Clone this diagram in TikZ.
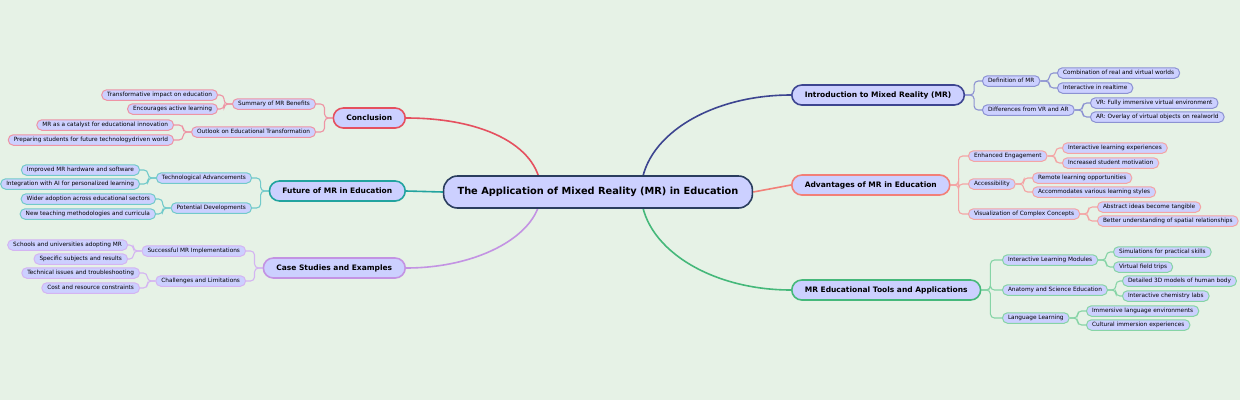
\documentclass[tikz,border=0pt]{standalone}
\usepackage{fontspec}
\setmainfont{DejaVu Sans}
\usetikzlibrary{positioning}
\pgfdeclarelayer{bg}
\pgfsetlayers{bg,main}
\definecolor{bgcol}{HTML}{E6F2E6}
\definecolor{nodefill}{HTML}{CCD0FF}
\definecolor{rootline}{HTML}{2A3D5E}
\definecolor{introcol}{HTML}{3D4590}
\definecolor{introsub}{HTML}{8C92D2}
\definecolor{advcol}{HTML}{F28078}
\definecolor{advsub}{HTML}{F4A4A4}
\definecolor{toolcol}{HTML}{45B87A}
\definecolor{toolsub}{HTML}{86D4A6}
\definecolor{conccol}{HTML}{E5505F}
\definecolor{concsub}{HTML}{EE94A4}
\definecolor{futcol}{HTML}{22A39F}
\definecolor{futsub}{HTML}{72CACA}
\definecolor{casecol}{HTML}{C393E3}
\definecolor{casesub}{HTML}{D4B4F2}
\tikzset{
  root/.style={draw=rootline, line width=1.6pt, fill=nodefill, rounded corners=14pt,
    minimum height=32pt, inner xsep=14pt, text height=7.3pt, text depth=2pt,
    font=\fontsize{9.8}{11}\selectfont\bfseries},
  topic/.style={draw=#1, line width=1.6pt, fill=nodefill, rounded corners=10pt,
    minimum height=20pt, inner xsep=13pt, text height=5.6pt, text depth=1.6pt,
    font=\fontsize{7.5}{9}\selectfont\bfseries},
  leaf/.style={draw=#1, line width=1pt, fill=nodefill, rounded corners=5pt,
    minimum height=10.5pt, inner xsep=5.5pt, inner ysep=0pt, text height=4.4pt,
    text depth=1.3pt, font=\fontsize{5.8}{7}\selectfont},
  branch/.style={draw=#1, line width=1.6pt},
  twig/.style={draw=#1, line width=1.1pt, rounded corners=4pt}
}
\begin{document}
\begin{tikzpicture}[x=1pt,y=-1pt]
\useasboundingbox (0,0) rectangle (1240,400);
\node[root] (app) at (598,192) {The Application of Mixed Reality (MR) in Education};
\node[topic=introcol, anchor=west] (intro) at (791,95) {Introduction to Mixed Reality (MR)};
\node[topic=advcol, anchor=west] (adv) at (791,185) {Advantages of MR in Education};
\node[topic=toolcol, anchor=west] (tools) at (791,290) {MR Educational Tools and Applications};
\node[topic=conccol, anchor=east] (conc) at (406,118) {Conclusion};
\node[topic=futcol, anchor=east] (fut) at (406,191) {Future of MR in Education};
\node[topic=casecol, anchor=east] (cases) at (406,268) {Case Studies and Examples};

\node[leaf=introsub, anchor=west] (defmr) at (982,81) {Definition of MR};
\node[leaf=introsub, anchor=west] (diffvr) at (982,110) {Differences from VR and AR};
\node[leaf=introsub, anchor=west] (combine) at (1057,73) {Combination of real and virtual worlds};
\node[leaf=introsub, anchor=west] (realtime) at (1057,88) {Interactive in realtime};
\node[leaf=introsub, anchor=west] (vrenv) at (1090,103) {VR: Fully immersive virtual environment};
\node[leaf=introsub, anchor=west] (aroverlay) at (1090,117) {AR: Overlay of virtual objects on realworld};

\node[leaf=advsub, anchor=west] (engage) at (968,156) {Enhanced Engagement};
\node[leaf=advsub, anchor=west] (access) at (968,184) {Accessibility};
\node[leaf=advsub, anchor=west] (visual) at (968,214) {Visualization of Complex Concepts};
\node[leaf=advsub, anchor=west] (experience) at (1062,148) {Interactive learning experiences};
\node[leaf=advsub, anchor=west] (motivation) at (1062,163) {Increased student motivation};
\node[leaf=advsub, anchor=west] (remote) at (1032,178) {Remote learning opportunities};
\node[leaf=advsub, anchor=west] (styles) at (1032,192) {Accommodates various learning styles};
\node[leaf=advsub, anchor=west] (tangible) at (1097,207) {Abstract ideas become tangible};
\node[leaf=advsub, anchor=west] (spatial) at (1097,221) {Better understanding of spatial relationships};

\node[leaf=toolsub, anchor=west] (modules) at (1002,260) {Interactive Learning Modules};
\node[leaf=toolsub, anchor=west] (anatomy) at (1002,290) {Anatomy and Science Education};
\node[leaf=toolsub, anchor=west] (language) at (1002,318) {Language Learning};
\node[leaf=toolsub, anchor=west] (skills) at (1113,252) {Simulations for practical skills};
\node[leaf=toolsub, anchor=west] (trips) at (1113,267) {Virtual field trips};
\node[leaf=toolsub, anchor=west] (body) at (1122,281) {Detailed 3D models of human body};
\node[leaf=toolsub, anchor=west] (chemlab) at (1122,296) {Interactive chemistry labs};
\node[leaf=toolsub, anchor=west] (langenv) at (1086,311) {Immersive language environments};
\node[leaf=toolsub, anchor=west] (culture) at (1086,325) {Cultural immersion experiences};

\node[leaf=concsub, anchor=east] (summary) at (316,104) {Summary of MR Benefits};
\node[leaf=concsub, anchor=east] (outlook) at (316,132) {Outlook on Educational Transformation};
\node[leaf=concsub, anchor=east] (impact) at (218,95) {Transformative impact on education};
\node[leaf=concsub, anchor=east] (active) at (218,109) {Encourages active learning};
\node[leaf=concsub, anchor=east] (catalyst) at (174,125) {MR as a catalyst for educational innovation};
\node[leaf=concsub, anchor=east] (prepare) at (174,140) {Preparing students for future technologydriven world};

\node[leaf=futsub, anchor=east] (techadv) at (252,178) {Technological Advancements};
\node[leaf=futsub, anchor=east] (potdev) at (252,208) {Potential Developments};
\node[leaf=futsub, anchor=east] (hardware) at (140,170) {Improved MR hardware and software};
\node[leaf=futsub, anchor=east] (aiint) at (140,184) {Integration with AI for personalized learning};
\node[leaf=futsub, anchor=east] (adoption) at (156,199) {Wider adoption across educational sectors};
\node[leaf=futsub, anchor=east] (methods) at (156,214) {New teaching methodologies and curricula};

\node[leaf=casesub, anchor=east] (success) at (246,251) {Successful MR Implementations};
\node[leaf=casesub, anchor=east] (limits) at (246,281) {Challenges and Limitations};
\node[leaf=casesub, anchor=east] (schools) at (128,245) {Schools and universities adopting MR};
\node[leaf=casesub, anchor=east] (subjects) at (128,259) {Specific subjects and results};
\node[leaf=casesub, anchor=east] (issues) at (140,273) {Technical issues and troubleshooting};
\node[leaf=casesub, anchor=east] (costs) at (140,288) {Cost and resource constraints};

\begin{pgfonlayer}{bg}
\fill[bgcol] (0,0) rectangle (1240,400);
\coordinate (hubR) at (641,192);
\coordinate (hubL) at (541,192);
\draw[branch=introcol] (hubR) .. controls +(0,-54) and +(-83,0) .. (intro.west);
\draw[branch=toolcol] (hubR) .. controls +(0,54) and +(-83,0) .. (tools.west);
\draw[branch=conccol] (hubL) .. controls +(0,-44) and +(81,0) .. (conc.east);
\draw[branch=casecol] (hubL) .. controls +(0,42) and +(74,0) .. (cases.east);
\draw[branch=advcol] (app.east) -- (adv.west);
\draw[branch=futcol] (app.west) -- (fut.east);

\draw[twig=introsub] (intro.east) -- ++(9,0) |- (defmr.west);
\draw[twig=introsub] (intro.east) -- ++(9,0) |- (diffvr.west);
\draw[twig=introsub] (defmr.east) -- ++(9,0) |- (combine.west);
\draw[twig=introsub] (defmr.east) -- ++(9,0) |- (realtime.west);
\draw[twig=introsub] (diffvr.east) -- ++(8,0) |- (vrenv.west);
\draw[twig=introsub] (diffvr.east) -- ++(8,0) |- (aroverlay.west);

\draw[twig=advsub] (adv.east) -- ++(8,0) |- (engage.west);
\draw[twig=advsub] (adv.east) -- ++(8,0) |- (access.west);
\draw[twig=advsub] (adv.east) -- ++(8,0) |- (visual.west);
\draw[twig=advsub] (engage.east) -- ++(8,0) |- (experience.west);
\draw[twig=advsub] (engage.east) -- ++(8,0) |- (motivation.west);
\draw[twig=advsub] (access.east) -- ++(8,0) |- (remote.west);
\draw[twig=advsub] (access.east) -- ++(8,0) |- (styles.west);
\draw[twig=advsub] (visual.east) -- ++(8,0) |- (tangible.west);
\draw[twig=advsub] (visual.east) -- ++(8,0) |- (spatial.west);

\draw[twig=toolsub] (tools.east) -- ++(9,0) |- (modules.west);
\draw[twig=toolsub] (tools.east) -- ++(9,0) |- (anatomy.west);
\draw[twig=toolsub] (tools.east) -- ++(9,0) |- (language.west);
\draw[twig=toolsub] (modules.east) -- ++(8,0) |- (skills.west);
\draw[twig=toolsub] (modules.east) -- ++(8,0) |- (trips.west);
\draw[twig=toolsub] (anatomy.east) -- ++(8,0) |- (body.west);
\draw[twig=toolsub] (anatomy.east) -- ++(8,0) |- (chemlab.west);
\draw[twig=toolsub] (language.east) -- ++(8,0) |- (langenv.west);
\draw[twig=toolsub] (language.east) -- ++(8,0) |- (culture.west);

\draw[twig=concsub] (conc.west) -- ++(-8,0) |- (summary.east);
\draw[twig=concsub] (conc.west) -- ++(-8,0) |- (outlook.east);
\draw[twig=concsub] (summary.west) -- ++(-8,0) |- (impact.east);
\draw[twig=concsub] (summary.west) -- ++(-8,0) |- (active.east);
\draw[twig=concsub] (outlook.west) -- ++(-8,0) |- (catalyst.east);
\draw[twig=concsub] (outlook.west) -- ++(-8,0) |- (prepare.east);

\draw[twig=futsub] (fut.west) -- ++(-8,0) |- (techadv.east);
\draw[twig=futsub] (fut.west) -- ++(-8,0) |- (potdev.east);
\draw[twig=futsub] (techadv.west) -- ++(-8,0) |- (hardware.east);
\draw[twig=futsub] (techadv.west) -- ++(-8,0) |- (aiint.east);
\draw[twig=futsub] (potdev.west) -- ++(-8,0) |- (adoption.east);
\draw[twig=futsub] (potdev.west) -- ++(-8,0) |- (methods.east);

\draw[twig=casesub] (cases.west) -- ++(-8,0) |- (success.east);
\draw[twig=casesub] (cases.west) -- ++(-8,0) |- (limits.east);
\draw[twig=casesub] (success.west) -- ++(-8,0) |- (schools.east);
\draw[twig=casesub] (success.west) -- ++(-8,0) |- (subjects.east);
\draw[twig=casesub] (limits.west) -- ++(-8,0) |- (issues.east);
\draw[twig=casesub] (limits.west) -- ++(-8,0) |- (costs.east);
\end{pgfonlayer}
\end{tikzpicture}
\end{document}
